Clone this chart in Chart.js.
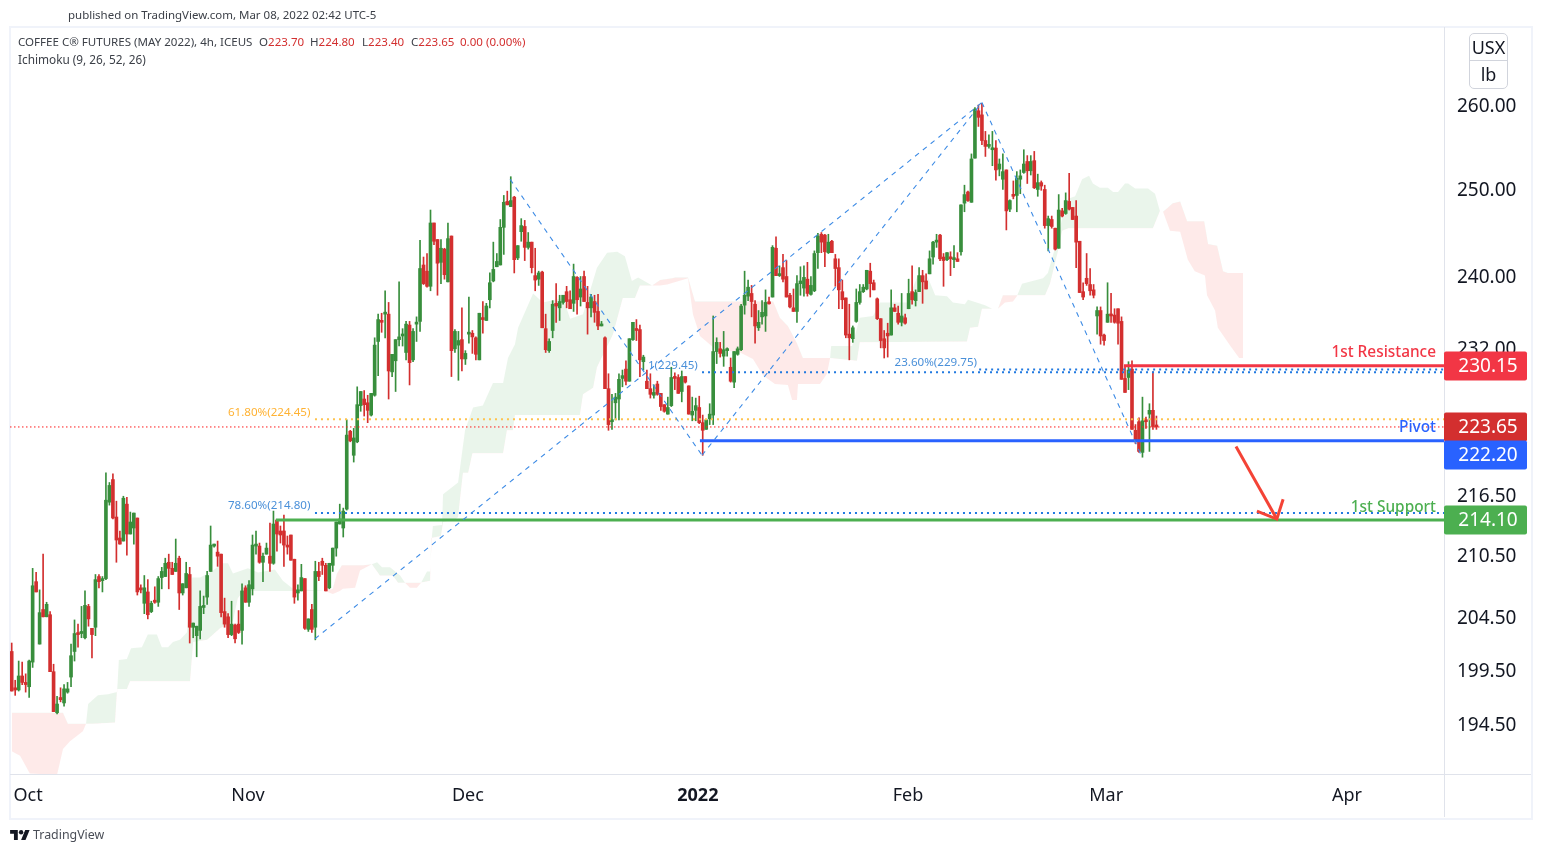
<!DOCTYPE html>
<html><head><meta charset="utf-8">
<style>
html,body{margin:0;padding:0;background:#fff;width:1542px;height:853px;overflow:hidden;font-family:"Noto Sans",sans-serif}
#frame{position:absolute;left:9px;top:26px;width:1520px;height:790px;border:2px solid #F0F3FA}
canvas{position:absolute;left:0;top:0}
.t{position:absolute;white-space:nowrap;font-size:11.55px;line-height:14px;color:#3c4048}
.r{color:#D32F2F}
#unit{position:absolute;left:1469px;top:33px;width:37px;height:54px;border:1px solid #D1D4DC;border-radius:5px;text-align:center;color:#131722;font-size:18px;background:#fff}
#unit div{height:27px;line-height:27px}
#unit div:first-child{border-bottom:1px solid #D1D4DC;height:26px}
#logo{position:absolute;left:10px;top:830px}
</style></head><body>
<div id="frame"></div>
<canvas id="c" width="1542" height="853"></canvas>
<div class="t" style="left:68px;top:8px;font-size:11.47px">published on TradingView.com, Mar 08, 2022 02:42 UTC-5</div>
<div class="t" style="left:18px;top:35px">COFFEE C® FUTURES (MAY 2022), 4h, ICEUS</div>
<div class="t" style="left:259px;top:35px">O<span class="r">223.70</span></div>
<div class="t" style="left:310px;top:35px">H<span class="r">224.80</span></div>
<div class="t" style="left:362px;top:35px">L<span class="r">223.40</span></div>
<div class="t" style="left:411px;top:35px">C<span class="r">223.65</span></div>
<div class="t r" style="left:460px;top:35px">0.00 (0.00%)</div>
<div class="t" style="left:18px;top:52px;font-size:11.8px">Ichimoku (9, 26, 52, 26)</div>
<div id="unit"><div>USX</div><div>lb</div></div>
<svg id="logo" width="20" height="11" viewBox="0 0 36 20"><path fill="#131722" d="M14 18H7V7H0V0h14v18zM28 18h-8L27.500 0h8L28 18z"/><circle cx="20" cy="4" r="4" fill="#131722"/></svg>
<div class="t" style="left:33px;top:828px;font-size:12.4px;color:#4a4e57">TradingView</div>
<script src="https://cdn.jsdelivr.net/npm/chart.js@4"></script>
<script>
// Candles: [open, high, low, close] per 4h bar
const octBars=[[201.3,202.1,197.6,197.6],[197.9,198.6,197.2,197.7],[197.7,200.4,197.6,199.0],[199.0,200.3,198.2,198.4],[198.4,199.2,197.5,198.2],[198.0,200.5,197.0,200.4],[200.3,209.3,199.8,207.6],[208.0,208.9,207.0,207.0],[202.0,207.2,202.0,205.0],[205.3,210.7,204.6,204.6],[204.6,206.0,204.6,205.8],[204.8,205.1,199.4,199.4],[199.4,200.1,195.7,195.7],[195.6,197.1,195.5,196.4],[197.0,197.9,196.6,196.8],[196.5,198.2,196.2,197.8],[197.5,198.4,197.4,197.8],[198.9,202.0,198.0,200.9],[201.3,204.3,200.4,203.0],[203.0,203.9,201.7,202.9],[203.0,205.6,202.6,203.2],[202.6,207.1,202.5,205.7],[205.6,205.8,203.7,204.4],[203.5,203.5,200.7,202.9],[203.6,208.7,202.8,208.2],[208.5,208.7,207.4,208.0],[208.1,208.5,207.0,208.3],[208.3,218.9,208.2,216.1],[215.9,217.9,215.6,217.6],[218.2,218.8,214.2,214.3],[214.4,216.0,209.9,212.1],[212.3,213.0,211.7,211.7],[212.0,216.5,212.0,216.3],[215.7,216.4,210.6,212.7],[212.7,214.9,212.7,213.9],[213.3,214.8,211.7,214.8],[214.3,214.3,206.7,207.0],[207.3,207.7,206.9,207.2],[205.9,208.6,204.9,207.4],[207.0,208.2,204.4,204.8],[205.1,206.1,205.0,205.9],[206.2,207.5,205.9,206.0],[206.0,208.5,205.6,208.3],[208.4,209.4,207.3,209.0],[208.5,210.3,208.5,209.8],[209.9,210.7,207.3,209.3],[209.3,209.9,208.7,208.7],[209.0,212.2,209.0,209.8],[210.3,210.5,205.3,206.9],[206.9,207.8,206.7,207.8],[207.4,209.9,207.4,208.8],[208.7,209.4,202.1,203.6],[203.6,204.0,202.6,204.0],[202.8,203.7,200.8,203.7],[203.3,207.1,202.5,205.6],[205.5,206.6,204.9,205.6],[206.5,209.0,205.8,208.6],[209.0,213.5,209.0,211.6],[211.5,211.7,211.4,211.6],[210.9,212.0,209.5,210.5],[210.7,210.7,204.6,205.0],[205.1,206.4,203.6,203.9],[204.6,204.9,202.6,202.9],[202.9,206.1,202.8,203.9],[203.8,203.9,202.1,202.5],[203.9,205.2,203.0,203.1],[203.3,207.8,202.0,207.1],[207.4,207.6,206.0,206.0]];
const novBars=[[206.0,208.1,205.6,207.7],[207.3,212.6,206.7,211.6],[211.5,213.0,210.7,211.6],[211.5,211.8,209.8,209.9],[209.9,210.8,208.0,210.5],[210.7,211.8,210.7,211.3],[210.5,213.8,209.0,209.8],[209.8,215.0,209.7,213.7],[214.1,214.1,211.0,212.7],[213.0,213.5,211.8,212.6],[213.0,214.6,209.5,211.6],[211.6,212.5,210.7,211.4],[212.6,212.6,210.1,210.1],[210.2,210.2,205.9,206.5],[206.9,207.7,206.2,207.2],[207.1,209.7,207.1,208.4],[208.3,208.3,203.4,203.5],[203.4,204.4,203.2,204.4],[205.3,205.8,203.1,203.4],[203.6,210.0,202.4,209.0],[209.0,209.9,208.1,208.5],[210.0,210.3,208.7,209.6],[209.6,209.8,207.1,207.1],[207.4,209.8,207.3,209.8],[209.6,211.3,209.0,211.3],[211.3,213.9,210.5,213.9],[213.7,215.7,213.7,214.2],[213.3,215.3,212.4,215.0],[215.2,224.4,215.1,222.8],[223.2,223.3,222.1,222.2],[220.7,223.5,220.0,222.5],[222.1,227.9,222.0,226.0],[225.9,227.4,225.3,227.4],[226.6,227.5,224.8,226.0],[226.2,227.0,224.1,225.4],[224.9,227.2,224.8,227.2],[227.0,233.2,226.9,232.4],[232.8,235.8,229.1,235.2],[235.1,235.9,233.8,234.9],[235.8,238.4,233.2,235.9],[235.8,237.1,226.6,229.6],[229.5,231.4,229.0,231.4],[230.7,233.0,227.4,233.0],[233.0,239.4,232.3,233.3],[233.4,234.2,232.3,233.6],[231.6,235.0,230.8,234.7],[234.6,235.0,228.1,230.5],[230.8,234.2,230.6,233.9],[234.7,235.5,232.8,234.9],[235.0,244.1,233.9,240.9],[241.3,242.2,239.1,239.2],[240.6,242.6,238.8,238.9],[238.9,247.6,238.4,246.1],[246.1,246.1,243.6,244.0],[244.2,244.2,237.9,241.5],[241.6,244.2,239.2,243.2],[243.1,243.2,239.7,240.2],[239.4,246.1,239.4,244.3],[244.6,244.6,229.0,231.8],[232.0,234.1,231.6,233.9],[232.4,233.9,228.6,232.9],[233.0,236.5,229.6,230.9],[230.9,231.8,230.3,231.5]];
const decBars=[[233.6,237.7,232.6,233.8],[233.7,234.0,231.5,233.3],[233.2,233.3,230.8,231.4],[230.8,235.9,230.8,235.9],[235.4,237.2,233.7,235.2],[235.1,237.0,235.1,236.7],[237.4,240.4,236.5,239.3],[239.5,243.9,239.4,240.8],[241.1,242.6,241.1,241.7],[241.3,246.5,241.3,245.6],[245.6,249.3,242.5,248.5],[248.6,249.8,248.2,248.2],[248.0,251.5,248.0,248.7],[249.1,249.2,240.4,241.9],[242.1,243.5,241.9,243.5],[245.1,246.6,244.0,245.8],[245.7,246.4,241.8,243.3],[243.3,245.0,243.1,243.9],[243.9,243.9,240.4,241.0],[240.1,243.2,238.4,239.6],[239.7,240.6,239.0,240.4],[240.5,240.6,234.3,234.3],[234.2,235.8,231.6,231.9],[231.8,233.1,231.6,232.8],[234.0,237.3,233.2,236.9],[237.0,239.2,234.9,236.7],[236.5,237.9,235.1,237.2],[237.1,237.9,236.9,237.9],[238.3,238.9,236.5,237.2],[237.4,238.4,236.4,236.4],[237.0,241.4,236.1,240.0],[239.9,240.0,235.8,237.4],[237.7,240.0,236.7,238.6],[240.0,240.6,237.2,237.2],[237.1,238.9,233.6,236.5],[236.5,238.0,235.5,237.7],[237.2,237.9,234.9,236.0],[236.1,238.0,234.1,234.5],[234.5,235.0,234.5,234.6],[233.2,233.3,227.7,227.7],[227.7,229.3,223.3,223.9],[224.2,227.1,223.4,224.3],[226.2,227.2,224.4,226.8],[226.6,229.3,224.4,228.7],[228.8,229.7,227.9,229.1],[229.8,230.7,228.1,228.5],[228.5,233.1,228.5,233.1],[233.0,234.9,232.9,234.9],[234.2,235.2,232.9,234.0],[234.1,234.6,229.0,230.8],[230.6,231.3,229.7,231.1],[228.5,229.7,227.7,227.7],[227.7,229.3,226.7,227.1],[227.0,228.1,226.7,227.3],[228.2,228.5,227.0,227.1],[227.2,227.2,225.4,225.8],[226.0,226.0,225.2,225.3],[225.0,226.8,225.0,225.7],[225.9,230.0,225.8,228.9],[228.9,229.4,227.6,228.8],[228.9,229.2,227.2,227.2],[227.4,229.6,226.3,229.0],[229.0,229.0,228.3,228.4],[228.0,228.0,225.0,225.0],[224.9,226.8,224.3,225.3],[225.4,226.7,224.3,225.9]];
const janBars=[[225.7,226.9,224.0,224.1],[224.1,224.9,220.7,223.3],[223.4,224.4,223.4,224.4],[224.5,226.1,223.9,225.0],[224.9,235.6,223.9,231.7],[231.7,233.2,230.4,232.7],[232.0,232.7,231.1,231.5],[231.2,233.9,230.1,231.9],[231.8,232.1,231.2,231.9],[230.0,231.0,228.4,228.5],[228.4,231.7,227.8,231.7],[231.4,232.2,231.3,232.0],[231.9,236.9,231.8,236.7],[236.8,240.6,235.8,237.9],[237.8,239.6,237.3,238.8],[238.1,239.0,235.5,237.2],[236.9,237.3,232.6,234.5],[234.3,236.2,234.0,234.9],[235.5,237.3,234.7,236.0],[235.6,238.5,233.9,237.1],[237.05,237.7,236.9,236.95],[237.7,243.5,237.7,243.3],[243.2,244.5,240.1,240.1],[240.1,241.2,240.0,240.3],[241.0,242.5,239.4,239.7],[240.0,241.8,237.7,237.7],[237.9,238.1,236.5,236.6],[236.5,238.6,236.1,236.1],[236.1,240.1,234.9,239.2],[239.2,241.1,237.9,239.5],[238.7,241.2,237.8,239.9],[239.7,241.6,237.8,238.1],[238.0,240.0,237.9,239.0],[238.4,242.9,238.3,242.6],[242.7,244.9,240.9,244.6],[244.8,245.0,242.7,243.9],[244.7,244.8,241.1,242.8],[242.7,244.8,242.6,243.9],[244.0,244.1,242.7,242.7],[242.0,242.5,238.9,240.9],[241.0,242.0,236.4,238.5],[238.3,239.6,236.4,237.4],[237.6,237.6,233.2,233.5],[233.6,236.9,230.8,233.2],[233.1,234.5,232.7,234.3],[235.0,238.6,234.9,237.1],[237.1,239.1,236.9,238.3],[238.3,239.1,238.2,238.8],[238.6,240.7,238.5,240.7],[240.6,241.5,237.7,239.2],[239.3,239.6,238.5,238.5],[237.5,237.6,235.2,235.3],[235.3,235.3,232.1,232.9],[233.1,234.0,231.0,232.1],[233.7,234.8,231.1,233.4],[233.5,238.5,233.5,236.5],[236.5,236.9,236.1,236.1],[235.9,236.7,234.7,234.9],[234.9,238.1,234.5,235.6],[235.4,235.8,234.7,234.8]];
const febBars=[[236.4,239.7,236.4,238.1],[238.3,241.2,236.9,237.4],[237.3,238.5,236.7,238.2],[238.3,241.0,238.3,240.1],[240.1,240.7,237.0,239.4],[239.5,240.3,238.6,238.6],[240.3,242.9,240.3,242.0],[242.2,244.0,241.4,243.9],[243.9,244.8,243.3,244.0],[244.7,244.8,241.8,242.0],[242.2,242.6,238.9,241.8],[241.9,242.7,241.8,242.7],[242.1,242.8,240.1,242.0],[241.9,243.5,241.0,242.1],[242.0,242.7,241.7,241.7],[242.8,248.2,242.4,248.2],[248.4,250.5,247.4,249.4],[249.7,249.8,248.6,248.7],[248.5,254.2,248.5,253.6],[253.7,259.8,253.7,259.6],[259.4,260.1,257.5,258.6],[258.9,260.3,255.3,255.8],[255.8,256.9,253.9,255.1],[255.1,256.5,254.9,255.2],[254.7,256.9,252.8,254.9],[254.9,255.8,251.1,252.3],[252.4,253.6,251.6,253.0],[251.2,254.2,250.0,252.1],[252.3,252.3,245.3,247.5],[247.7,248.8,247.4,248.7],[249.4,251.0,248.9,249.2],[249.3,252.1,247.4,251.3],[251.2,252.3,249.5,251.6],[252.0,254.7,251.9,253.0],[253.3,254.0,250.7,252.2],[252.2,254.0,251.7,253.3],[253.4,254.5,250.1,250.2],[250.0,251.8,249.2,250.8],[250.8,251.0,249.9,250.4],[250.0,250.5,245.5,245.8],[245.8,246.9,242.9,246.6],[246.5,246.9,245.5,245.7],[245.5,245.5,243.0,243.1],[243.2,249.4,243.2,247.6],[247.5,247.8,246.8,246.9],[247.2,249.6,247.1,248.7],[248.6,251.9,247.6,247.7],[247.9,247.9,246.5,246.5],[246.9,248.7,241.0,243.9],[244.0,244.0,238.2,238.2],[238.3,239.3,237.4,237.7],[239.8,242.6,239.0,239.2],[239.1,240.9,237.9,238.4],[238.5,239.1,237.6,237.9],[235.6,236.6,233.6,236.2],[236.2,236.6,232.5,233.4],[233.5,233.6,232.4,232.9]];
const marBars=[[234.9,239.3,234.9,235.8],[235.8,238.1,234.9,235.6],[235.7,236.4,234.8,234.9],[236.4,236.4,232.5,234.8],[235.0,235.5,228.7,228.7],[228.8,230.1,227.3,227.3],[228.9,230.6,227.6,229.7],[229.8,230.7,223.4,223.4],[223.3,223.9,221.9,222.1],[224.2,224.6,221.0,221.1],[221.0,226.8,220.5,224.3],[224.4,224.7,223.5,224.2],[225.0,226.1,221.1,225.4],[225.4,229.5,223.4,223.7],[223.7,224.8,223.4,223.65]];

// Ichimoku leading spans, sampled where the outline changes: bar index and price
const spanAIdx=[0,2.4,5.2,13,14.7,16.7,20.4,21.3,21.9,24.7,27.6,30.2,30.7,33,34.2,37.3,39,41.6,43,44.8,46.2,48.2,50.2,51.7,54,57.7,60.3,62,63.4,67.7,70.6,75.4,77.7,80.6,89.8,92,94,94.9,98.4,99.8,103.2,104.7,106.1,108.4,111.3,112.7,114.1,116.1,117.3,119,119.9,120.4,120.7,123.3,123.6,127.9,129.9,132.2,135,137.9,140.8,142.2,144.2,145.1,149.4,152.2,158,160,163.7,167.7,170.6,173.5,175.7,177.7,179.5,183.5,185.8,187.8,193.8,195.2,197.2,201.5,208.7,212.4,215.3,218.7,222.4,223.6,225,225.3,231.6,233.6,234.5,234.8,240.8,243,246.8,248.8,256.5,259.4,262.3,264.6,268,269.7,273.1,274,278.9,280.9,282.6,284.6,286.9,288,289.5,295.5,296.9,299.5,301.8,302.7,304.7,306.7,308.7,309.8,311.8,314.1,315.6,317,319,319.9,321.9,325.6,327.6,329,329.9,331.9,334.8,337,339,341.9,342.5,344.8,345.6,349,351.7,352.8];
const spanAVal=[192.1,191.7,190.1,190.0,192.3,193.0,193.9,194.6,196.4,197.2,197.3,197.5,200.5,200.6,201.6,201.7,202.9,202.9,201.7,201.7,202.2,202.4,203.1,208.4,208.4,209.1,209.8,209.8,208.8,209.3,208.9,209.2,208.1,207.3,207.1,206.8,207.1,207.3,207.4,209.1,209.7,209.9,209.4,209.4,208.6,207.9,207.4,207.4,207.9,209.0,209.0,212.5,213.5,213.6,216.7,217.9,223.3,225.7,225.9,228.3,228.3,231.0,232.5,234.3,238.1,237.1,237.6,235.3,235.8,241.0,242.7,242.8,242.3,239.5,239.9,239.0,239.0,239.1,239.8,235.8,233.4,232.0,231.6,230.9,229.1,228.2,228.1,226.5,226.5,228.2,228.2,229.3,231.0,232.3,232.3,235.4,235.6,237.1,237.1,239.9,240.1,237.9,237.8,237.1,236.9,237.4,236.8,236.4,236.4,237.1,237.2,237.8,239.2,239.8,240.4,244.0,248.1,248.9,249.2,251.2,251.6,250.7,250.2,250.2,249.7,249.7,250.7,250.7,250.1,250.1,249.5,247.5,247.4,245.2,245.1,241.9,240.6,240.1,237.9,236.2,234.3,232.4,231.0,231.0];
const spanBIdx=[0,14.7,16.1,21,23.3,29.6,30.2,33,33.9,51.1,52,56,57.7,59.7,63.4,64.8,66.3,89.8,92,93.2,94.6,100.7,103.2,105.5,109.2,110.7,112.7,117,119.9,120.2,123,123.6,127.3,127.9,129.3,130.8,132,140.8,141.9,143.6,144.2,162.8,163.7,166.6,167.7,172.3,175.1,178.6,180,183.5,185.8,189.2,190.1,193.8,195.8,218.2,220.1,222.4,225,226.7,234.5,242.2,243,273.7,274.6,276.9,278,282.6,284,287.5,288,296.1,297.5,299.8,301,302.7,327,329,329.9,332.7,334.8,336.8,341.7,342.8,345.4,347.1,348.5,352.8];
const spanBVal=[195.6,195.6,194.6,194.6,194.6,194.7,197.8,197.8,198.5,198.5,202.2,202.4,202.9,203.5,204.2,206.4,207.1,207.1,207.3,208.8,209.6,209.6,209.7,208.6,208.6,207.9,207.9,207.9,208.1,212.3,212.5,213.9,214.2,214.4,218.9,218.9,220.9,220.9,223.3,223.3,224.9,224.9,227.1,227.8,230.0,233.6,237.6,237.6,239.0,239.0,239.6,239.8,239.9,239.9,237.2,237.2,235.4,234.5,232.6,231.0,231.0,230.7,232.7,232.8,234.3,234.4,236.4,236.4,237.9,237.9,237.9,237.9,239.2,242.9,245.2,245.5,245.5,247.5,247.4,248.4,248.6,246.3,246.3,243.7,243.5,240.6,240.4,240.4];

// Drawn trend lines: bar index and price
const zigzagLowHigh={x:[86.9,278],y:[202.5,260.4]};
const zigzagHighLow={x:[142.8,197.8],y:[251.2,220.7]};
const zigzagLowPeak={x:[197.8,278],y:[220.7,260.4]};
const zigzagPeakLow={x:[278,323.9],y:[260.4,220.5]};
const arrowShaft={x:[350.8,362.5],y:[221.6,214.2]};
const arrowHead={x:[356.8,362.5,364.3],y:[215.0,214.2,216.2]};

// Horizontal levels
const resistance=230.15, pivot=222.20, support=214.10, lastClose=223.65;
const fib100=229.45, fib236=229.75, fib618=224.45, fib786=214.80;

// Axis ticks
const priceTicks=[260,250,240,232,216.5,210.5,204.5,199.5,194.5];
const timeTickIdx=[4.7,67.7,130.7,196.6,256.8,313.6,382.6];
const timeTickText=['Oct','Nov','Dec','2022','Feb','Mar','Apr'];

const UP='#388E3C',DOWN='#D32F2F',MAXI=410.4,MINI=-0.487;
const bars=[...octBars,...novBars,...decBars,...janBars,...febBars,...marBars];
const colorOf=b=>b[3]>=b[0]?UP:DOWN;
const pts=(xs,ys)=>xs.map((x,k)=>({x,y:ys[k]}));
const line=(xs,ys,color,width,dash,order)=>({type:'line',data:pts(xs,ys),borderColor:color,borderWidth:width,borderDash:dash||[],pointRadius:0,tension:0,fill:false,order:order||3});
const ZZ='#3D8BE5';

const datasets=[
 {type:'bar',label:'wick',data:bars.map((b,i)=>({x:i,y:[b[2],b[1]]})),backgroundColor:bars.map(colorOf),barThickness:1,grouped:false,order:6},
 {type:'bar',label:'body',data:bars.map((b,i)=>({x:i,y:[Math.min(b[0],b[3]),Math.max(b[0],b[3])]})),backgroundColor:bars.map(colorOf),barThickness:3,minBarLength:2,grouped:false,order:5},
 {type:'line',label:'spanA',data:pts(spanAIdx,spanAVal),borderWidth:0,pointRadius:0,tension:0,order:10,fill:{target:'+1',above:'rgba(67,160,71,0.11)',below:'rgba(244,67,54,0.11)'}},
 {type:'line',label:'spanB',data:pts(spanBIdx,spanBVal),borderWidth:0,pointRadius:0,tension:0,order:11,fill:false},
 line(zigzagLowHigh.x,zigzagLowHigh.y,ZZ,1.1,[5,5]),
 line(zigzagHighLow.x,zigzagHighLow.y,ZZ,1.1,[5,5]),
 line(zigzagLowPeak.x,zigzagLowPeak.y,ZZ,1.1,[5,5]),
 line(zigzagPeakLow.x,zigzagPeakLow.y,ZZ,1.1,[5,5]),
 line([MINI,MAXI],[lastClose,lastClose],'#FF1A1A',1,[1.5,2.5],4),
 line([86.9,MAXI],[fib618,fib618],'#FFC34D',2,[2,4],4),
 line([197.8,MAXI],[fib100,fib100],'#2079E0',2,[2,4],4),
 line([277.2,MAXI],[fib236,fib236],'#2079E0',2,[2,4],4),
 line([86.9,MAXI],[fib786,fib786],'#2079E0',2,[2,4],4),
 line([318.7,MAXI],[resistance,resistance],'#F23645',3),
 line([197.2,MAXI],[pivot,pivot],'#2962FF',3),
 line([75.7,MAXI],[support,support],'#4CAF50',3),
 line(arrowShaft.x,arrowShaft.y,'#F44336',3,null,1),
 line(arrowHead.x,arrowHead.y,'#F44336',3,null,1)
];

const FONT='"Noto Sans",sans-serif';
const fibLabels=[
 {text:'61.80%(224.45)',idx:85.6,price:fib618,color:'#FFB233',dy:-7},
 {text:'78.60%(214.80)',idx:85.6,price:fib786,color:'#4A90D9',dy:-7},
 {text:'23.60%(229.75)',idx:276.6,price:fib236,color:'#4A90D9',dy:-7},
 {text:'1(229.45)',idx:196.6,price:fib100,color:'#4A90D9',dy:-7}
];
const sideLabels=[
 {text:'1st Resistance',price:resistance,color:'#F23645',dy:-13},
 {text:'Pivot',price:pivot,color:'#2962FF',dy:-13},
 {text:'1st Support',price:support,color:'#4CAF50',dy:-12}
];
const priceTags=[
 {price:resistance,color:'#F23645',shift:0},
 {price:lastClose,color:'#D32F2F',shift:0},
 {price:pivot,color:'#2962FF',shift:14},
 {price:support,color:'#4CAF50',shift:0}
];
const overlay={id:'overlay',
 beforeDraw(chart){
  if(chart.$shifted)return;chart.$shifted=true;
  chart.scales.y.getLabelItems(chart.chartArea).forEach(it=>{it.options.translation[1]+=0.7;});
 },
 afterDraw(chart){
 const {ctx,scales:{x,y},chartArea:a}=chart;
 ctx.save();
 ctx.strokeStyle='#E0E3EB';ctx.lineWidth=1;ctx.beginPath();
 ctx.moveTo(a.left,a.bottom+0.5);ctx.lineTo(1531,a.bottom+0.5);
 ctx.moveTo(a.right+0.5,a.top);ctx.lineTo(a.right+0.5,817);ctx.stroke();
 ctx.textBaseline='middle';
 ctx.font='11.6px '+FONT;ctx.textAlign='right';
 fibLabels.forEach(l=>{ctx.fillStyle=l.color;ctx.fillText(l.text,x.getPixelForValue(l.idx),y.getPixelForValue(l.price)+l.dy);});
 ctx.font='500 15.4px '+FONT;
 sideLabels.forEach(l=>{ctx.fillStyle=l.color;ctx.fillText(l.text,a.right-8,y.getPixelForValue(l.price)+l.dy);});
 ctx.font='19px '+FONT;
 priceTags.forEach(t=>{const py=Math.round(y.getPixelForValue(t.price))+t.shift;
  ctx.fillStyle=t.color;ctx.beginPath();ctx.roundRect(a.right,py-14.5,83,29,2);ctx.fill();
  ctx.fillStyle='#fff';ctx.textAlign='center';ctx.fillText(t.price.toFixed(2),a.right+44,py+1);});
 ctx.restore();
}};

new Chart(document.getElementById('c'),{
 type:'bar',
 data:{datasets},
 plugins:[overlay],
 options:{
  responsive:false,animation:false,devicePixelRatio:1,
  layout:{padding:{left:10,top:27,right:10,bottom:35}},
  plugins:{legend:{display:false},tooltip:{enabled:false},filler:{propagate:false}},
  scales:{
   x:{type:'linear',offset:false,min:MINI,max:MAXI,
    grid:{display:false,offset:false},border:{display:true,color:'#E0E3EB',width:1},
    afterBuildTicks:s=>{s.ticks=timeTickIdx.map(v=>({value:v}));},
    afterFit:s=>{s.height=44;},
    ticks:{autoSkip:false,maxRotation:0,minRotation:0,padding:3,color:'#131722',
     font:c=>({family:FONT,size:18,weight:c.index===3?'700':'400'}),
     callback:(v,i)=>timeTickText[i]}},
   y:{type:'logarithmic',position:'right',min:190.06,max:269.79,
    grid:{display:false},border:{display:true,color:'#E0E3EB',width:1},
    afterBuildTicks:s=>{s.ticks=priceTicks.map(v=>({value:v}));},
    afterFit:s=>{s.width=88;},
    ticks:{autoSkip:false,padding:5,color:'#131722',font:{family:FONT,size:19},
     callback:v=>Number(v).toFixed(2)}}
  }
 }
});
</script>
</body></html>
